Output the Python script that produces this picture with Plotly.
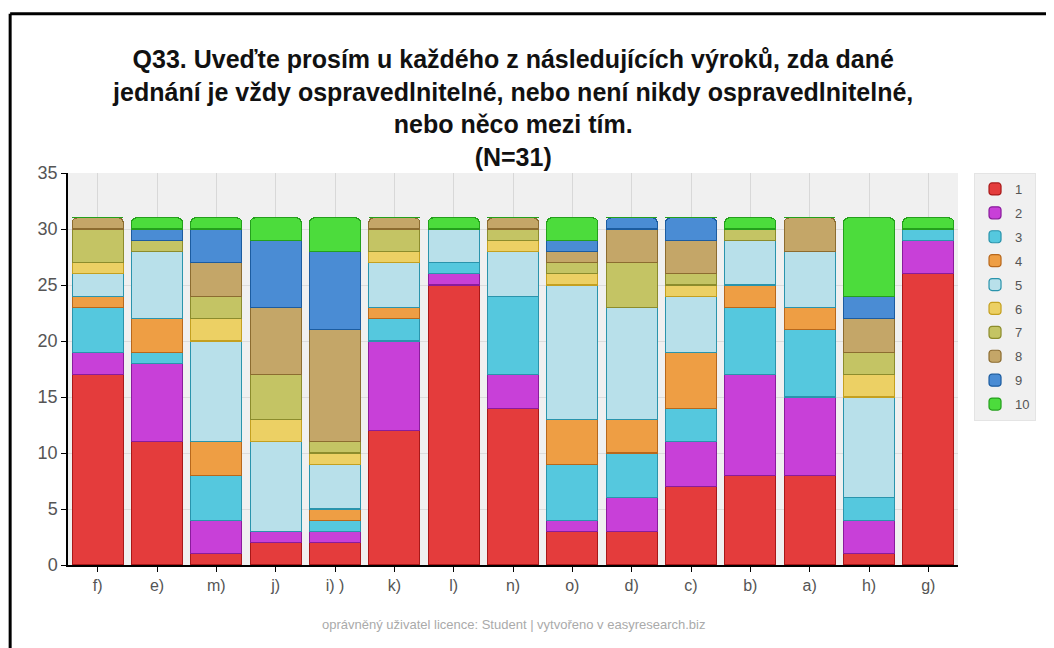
import plotly.graph_objects as go

categories = ["f)", "e)", "m)", "j)", "i) )", "k)", "l)", "n)", "o)", "d)", "c)", "b)", "a)", "h)", "g)"]
answers = ["1", "2", "3", "4", "5", "6", "7", "8", "9", "10"]

# counts per answer (1..10) for each item, in category order
f_ = [17, 2, 4, 1, 2, 1, 3, 1, 0, 0]
e_ = [11, 7, 1, 3, 6, 0, 1, 0, 1, 1]
m_ = [1, 3, 4, 3, 9, 2, 2, 3, 3, 1]
j_ = [2, 1, 0, 0, 8, 2, 4, 6, 6, 2]
i_ = [2, 1, 1, 1, 4, 1, 1, 10, 7, 3]
k_ = [12, 8, 2, 1, 4, 1, 2, 1, 0, 0]
l_ = [25, 1, 1, 0, 3, 0, 0, 0, 0, 1]
n_ = [14, 3, 7, 0, 4, 1, 1, 1, 0, 0]
o_ = [3, 1, 5, 4, 12, 1, 1, 1, 1, 2]
d_ = [3, 3, 4, 3, 10, 0, 4, 3, 1, 0]
c_ = [7, 4, 3, 5, 5, 1, 1, 3, 2, 0]
b_ = [8, 9, 6, 2, 4, 0, 1, 0, 0, 1]
a_ = [8, 7, 6, 2, 5, 0, 0, 3, 0, 0]
h_ = [1, 3, 2, 0, 9, 2, 2, 3, 2, 7]
g_ = [26, 3, 1, 0, 0, 0, 0, 0, 0, 1]

rows = [f_, e_, m_, j_, i_, k_, l_, n_, o_, d_, c_, b_, a_, h_, g_]

fills = ["#e43c3c", "#c840d8", "#55c8de", "#ee9e44", "#b8e0ea",
         "#ecd064", "#c4c464", "#c4a668", "#4a8cd4", "#4cdc3c"]
edges = ["#a81818", "#8a1c9c", "#2a94ac", "#b8681c", "#2a94ac",
         "#c4a020", "#8c8c2c", "#8c6c30", "#1c5ca0", "#24a01c"]

fig = go.Figure()
for idx, name in enumerate(answers):
    fig.add_trace(go.Bar(
        x=categories,
        y=[r[idx] for r in rows],
        name=name,
        legendgroup=name,
        marker=dict(color=fills[idx], line=dict(color=edges[idx], width=1.2)),
    ))

# page body adds 8px offset, so figure is 1046x640
fig.update_layout(
    barmode="stack",
    bargap=0.14,
    barcornerradius=5,
    width=1046, height=640,
    margin=dict(l=60, r=96, t=165, b=83),
    paper_bgcolor="white",
    plot_bgcolor="#f0f0f0",
    font=dict(family="Liberation Sans, Arial", color="#444"),
    title=dict(
        text="<b>Q33. Uveďte prosím u každého z následujících výroků, zda dané<br>"
             "jednání je vždy ospravedlnitelné, nebo není nikdy ospravedlnitelné,<br>"
             "nebo něco mezi tím.<br>(N=31)</b>",
        x=0.483, xanchor="center", y=0.906, yanchor="top",
        font=dict(size=25, color="#111", family="Liberation Sans, Arial"),
    ),
    legend=dict(
        x=1.018, xanchor="left", y=1.0, yanchor="top",
        bgcolor="#f0f0f0", bordercolor="#e4e4e4", borderwidth=1,
        font=dict(size=13, color="#555"),
        traceorder="grouped", itemwidth=30, tracegroupgap=4,
    ),
    xaxis=dict(
        showline=True, linecolor="black", linewidth=1.5,
        ticks="outside", ticklen=5, tickcolor="black",
        showgrid=True, gridcolor="#d8d8d8",
        tickfont=dict(size=16, color="#555"),
    ),
    yaxis=dict(
        range=[0, 35], dtick=5,
        showline=True, linecolor="black", linewidth=1.5,
        ticks="outside", ticklen=5, tickcolor="black",
        showgrid=True, gridcolor="#dcdcdc", zeroline=False,
        tickfont=dict(size=18, color="#555"),
    ),
    shapes=[
        dict(type="line", xref="paper", yref="paper", x0=-0.065, x1=1.2, y0=1.406, y1=1.406,
             line=dict(color="black", width=3)),
        dict(type="line", xref="paper", yref="paper", x0=-0.065, x1=-0.065, y0=1.406, y1=-0.3,
             line=dict(color="black", width=3)),
    ],
    annotations=[
        dict(text="oprávněný uživatel licence: Student | vytvořeno v easyresearch.biz",
             xref="paper", yref="paper", x=0.5, y=-0.153, xanchor="center", yanchor="middle",
             showarrow=False, font=dict(size=13, color="#aaa")),
    ],
)

fig.write_html("out.html")
